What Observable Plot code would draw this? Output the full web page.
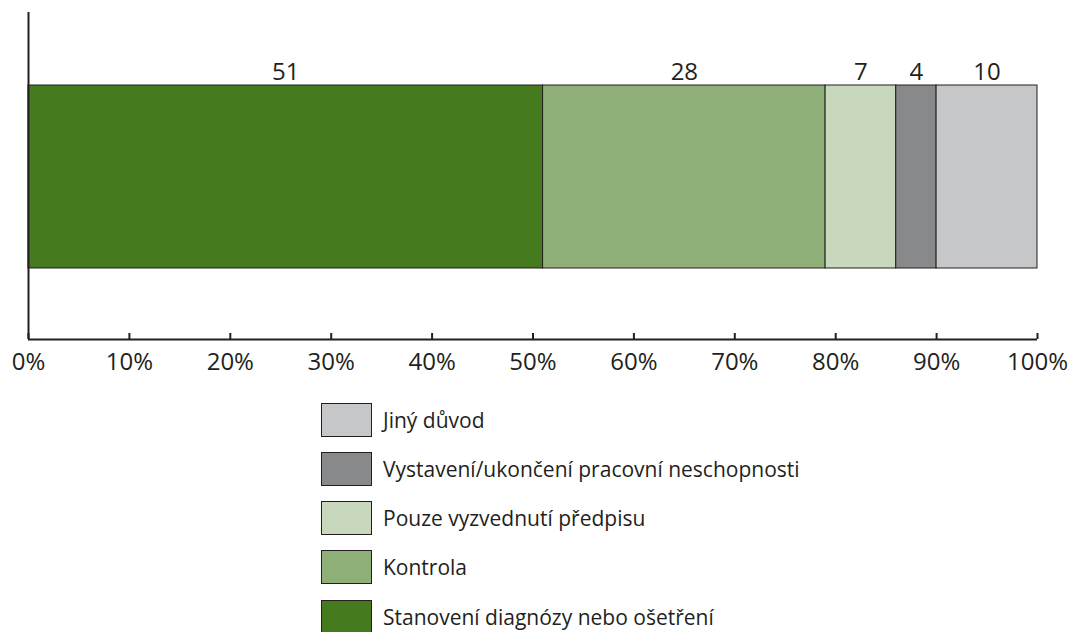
<!DOCTYPE html>
<html><head><meta charset="utf-8">
<script src="https://cdn.jsdelivr.net/npm/d3@7"></script>
<script src="https://cdn.jsdelivr.net/npm/@observablehq/plot@0.6"></script>
<style>
body{margin:0;background:#fff;font-family:"Open Sans",sans-serif;}
#legend{position:absolute;left:321px;top:403px;}
.row{display:flex;align-items:center;height:33px;margin-bottom:16.3px;}
.sw{width:49px;height:32px;border:1px solid #231f20;box-sizing:content-box;}
.lb{margin-left:11px;font-size:21px;color:#231f20;white-space:nowrap;}
</style></head>
<body>
<div id="chart"></div>
<div id="legend"></div>
<script>
const categories = ["Stanovení diagnózy nebo ošetření","Kontrola","Pouze vyzvednutí předpisu","Vystavení/ukončení pracovní neschopnosti","Jiný důvod"];
const values = [51, 28, 7, 4, 10];
const colors = ["#467a1e","#8faf78","#c8d8bc","#88898b","#c6c7c9"];
const ticks = [0,10,20,30,40,50,60,70,80,90,100];

const data = categories.map((c,i)=>({cat:c, value:values[i]}));

const chart = Plot.plot({
  width: 1069, height: 385,
  marginLeft: 28, marginRight: 32, marginTop: 12, marginBottom: 46,
  style: {fontFamily: '"Open Sans", sans-serif', fontSize: "24px", color: "#231f20", overflow: "visible"},
  x: {domain: [0,100], axis: null, label: null},
  y: {domain: [0,1], axis: null},
  color: {domain: categories, range: colors},
  marks: [
    Plot.barX(data, Plot.stackX({x: "value", fill: "cat", stroke: "#231f20", strokeWidth: 1, insetTop: 73, insetBottom: 71})),
    Plot.text(data, Plot.stackX({x: "value", text: d=>String(d.value), frameAnchor: "top", dy: 50, fill: "#231f20", fontSize: 24})),
    Plot.ruleX([0], {stroke: "#231f20", strokeWidth: 2}),
    Plot.ruleY([0], {stroke: "#231f20", strokeWidth: 2}),
    Plot.axisX(ticks, {label: null, tickSize: -6, tickPadding: 19, tickFormat: d=>d+"%", fontSize: 24, stroke: "#231f20", strokeWidth: 2, fill: "#231f20"})
  ]
});
document.getElementById("chart").appendChild(chart);

const leg = d3.select("#legend");
categories.slice().reverse().forEach((c)=>{
  const i = categories.indexOf(c);
  const r = leg.append("div").attr("class","row");
  r.append("div").attr("class","sw").style("background", colors[i]);
  r.append("div").attr("class","lb").text(c);
});
</script>
</body></html>
